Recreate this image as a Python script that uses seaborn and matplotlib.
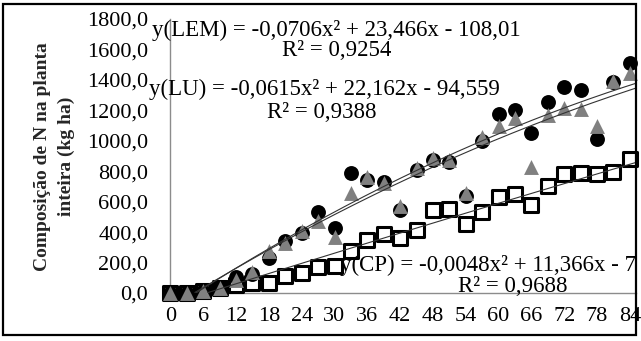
import numpy as np
import pandas as pd
import matplotlib
matplotlib.use("Agg")
import matplotlib.pyplot as plt
import seaborn as sns
from matplotlib.patches import Rectangle

# ---------------- data ----------------
days = [0, 3, 6, 9, 12, 15, 18, 21, 24, 27, 30, 33, 36, 39, 42, 45, 48, 51, 54,
        57, 60, 63, 66, 69, 72, 75, 78, 81, 84]
lem = [0, 0, 10, 40, 103, 125, 228, 342, 396, 534, 425, 790, 745, 731, 545, 805,
       876, 863, 640, 1000, 1176, 1202, 1049, 1257, 1356, 1334, 1012, 1388, 1513]
lu = [0, 0, 10, 32, 85, 140, 276, 330, 409, 475, 370, 659, 760, 720, 570, 819,
      885, 873, 659, 1027, 1097, 1148, 830, 1170, 1213, 1207, 1097, 1393, 1443]
cp = [0, 0, 13, 35, 53, 64, 68, 112, 129, 168, 180, 276, 348, 388, 362, 417,
      542, 554, 453, 532, 633, 652, 578, 704, 782, 790, 782, 795, 878]

# trendline coefficients (a, b, c) for y = a x^2 + b x + c
coef_lem = [-0.0706, 23.466, -108.01]
coef_lu = [-0.0615, 22.162, -94.559]
coef_cp = [-0.0048, 11.366, -75.0]

eq_lem = ["y(LEM) = -0,0706x² + 23,466x - 108,01", "R² = 0,9254"]
eq_lu = ["y(LU) = -0,0615x² + 22,162x - 94,559", "R² = 0,9388"]
eq_cp = ["y(CP) = -0,0048x² + 11,366x - 7", "R² = 0,9688"]

xticks = list(range(0, 85, 6))
yticks = list(range(0, 1801, 200))
ylabel1 = "Composição de N na planta"
ylabel2 = "inteira (kg ha)"

# ---------------- figure ----------------
W, H = 641, 341
FS = 16
sns.set_theme(style="white")
plt.rcParams['font.family'] = ['Liberation Serif', 'DejaVu Serif']

fig = plt.figure(figsize=(W / 100, H / 100), dpi=100)
fig.patch.set_facecolor("white")

x0_px, x1_px = 170.4, 636.0
y0_px, y1_px = 293.0, 19.0
px_per_day = 5.47
ax = fig.add_axes([x0_px / W, 1 - y0_px / H, (x1_px - x0_px) / W, (y0_px - y1_px) / H])
ax.set_facecolor("white")
ax.set_xlim(0, (x1_px - x0_px) / px_per_day)
ax.set_ylim(0, 1800)

df = pd.DataFrame({"dia": days, "LEM": lem, "LU": lu, "CP": cp})

# trend lines
xs = np.linspace(0, (x1_px - x0_px) / px_per_day, 400)
def curve(c):
    y = c[0] * xs ** 2 + c[1] * xs + c[2]
    return pd.DataFrame({"x": xs[y >= 0], "y": y[y >= 0]})

sns.scatterplot(data=df, x="dia", y="CP", marker="s", s=110, color="white",
                edgecolor="black", linewidth=2.2, ax=ax, clip_on=False, zorder=3)
sns.scatterplot(data=df, x="dia", y="LEM", marker="o", s=115, color="black",
                edgecolor="black", linewidth=0, ax=ax, clip_on=False, zorder=4)
sns.scatterplot(data=df, x="dia", y="LU", marker="^", s=115, color="#808080",
                edgecolor="#808080", linewidth=0, ax=ax, clip_on=False, zorder=5)

for c in (coef_lem, coef_lu, coef_cp):
    d = curve(c)
    sns.lineplot(data=d, x="x", y="y", color="#333333", linewidth=0.8, ax=ax,
                 zorder=6, estimator=None, sort=False)

# axes styling
for s in ("top", "right"):
    ax.spines[s].set_visible(False)
for s in ("left", "bottom"):
    ax.spines[s].set_color("#8c8c8c")
    ax.spines[s].set_linewidth(1.0)
ax.set_xticks(xticks)
ax.set_xticklabels([str(t) for t in xticks])
ax.set_yticks(yticks)
ax.set_yticklabels([f"{t},0" for t in yticks])
ax.tick_params(axis="both", which="both", direction="out", length=5, width=1,
               color="#8c8c8c", labelsize=FS, labelcolor="black")
ax.tick_params(axis="y", pad=11)
ax.tick_params(axis="x", pad=5)
ax.set_xlabel("")
ax.set_ylabel("")

def ftext(x, y, s, **kw):
    fig.text(x / W, 1 - y / H, s, va="center", fontsize=FS + 0.5, color="black", **kw)

ftext(336, 30, eq_lem[0], ha="center")
ftext(337, 50, eq_lem[1], ha="center")
ftext(324, 89, eq_lu[0], ha="center")
ftext(322, 113, eq_lu[1], ha="center")
ftext(340, 265, eq_cp[0], ha="left")
ftext(513, 286, eq_cp[1], ha="center")

fig.text(43 / W, 1 - 157 / H, ylabel1, rotation=90, ha="center", va="center",
         fontsize=14, fontweight="bold")
fig.text(66 / W, 1 - 156 / H, ylabel2, rotation=90, ha="center", va="center",
         fontsize=14, fontweight="bold")

# chart border
fig.patches.append(Rectangle((3 / W, 6 / H), 633 / W, (H - 10) / H, transform=fig.transFigure,
                             fill=False, edgecolor="black", linewidth=1.6, zorder=10))

fig.savefig("out.png", dpi=100)
